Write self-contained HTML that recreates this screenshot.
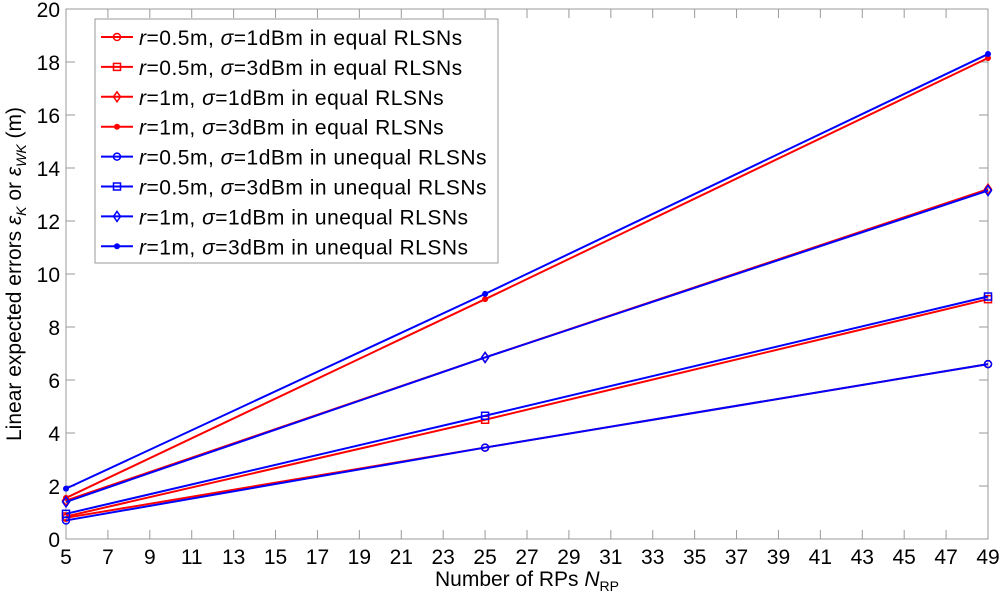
<!DOCTYPE html>
<html><head><meta charset="utf-8"><style>
body{margin:0;background:#fff}
svg{font-family:"Liberation Sans",sans-serif}
</style></head><body>
<svg id="c" width="1000" height="597" xmlns="http://www.w3.org/2000/svg"></svg>
<script>
const categories=[5,25,49];
const eqR05S1=[0.8,3.45,6.6];
const eqR05S3=[0.85,4.5,9.05];
const eqR1S1=[1.45,6.85,13.2];
const eqR1S3=[1.55,9.05,18.15];
const uqR05S1=[0.7,3.45,6.6];
const uqR05S3=[0.95,4.65,9.15];
const uqR1S1=[1.4,6.85,13.15];
const uqR1S3=[1.9,9.25,18.3];
const xTicks=[5,7,9,11,13,15,17,19,21,23,25,27,29,31,33,35,37,39,41,43,45,47,49];
const yTicks=[0,2,4,6,8,10,12,14,16,18,20];
const labels=[["0.5m","1dBm","equal"],["0.5m","3dBm","equal"],["1m","1dBm","equal"],["1m","3dBm","equal"],["0.5m","1dBm","unequal"],["0.5m","3dBm","unequal"],["1m","1dBm","unequal"],["1m","3dBm","unequal"]];
const series=[eqR05S1,eqR05S3,eqR1S1,eqR1S3,uqR05S1,uqR05S3,uqR1S1,uqR1S3];
const markers=["o","s","d","*","o","s","d","*"];
const colors=["#f00","#f00","#f00","#f00","#00f","#00f","#00f","#00f"];
const L=66,R=988,T=9,B=539;
const X=v=>L+(v-5)/(49-5)*(R-L);
const Y=v=>B-v/20*(B-T);
const svg=document.getElementById('c');const NS="http://www.w3.org/2000/svg";
function mk(t,a,p){const e=document.createElementNS(NS,t);for(const k in a)e.setAttribute(k,a[k]);(p||svg).appendChild(e);return e;}
const frame=mk('rect',{x:L,y:T,width:R-L,height:B-T,fill:'none',stroke:'#999','stroke-width':1});


xTicks.forEach(t=>{const x=X(t);
mk('line',{x1:x,y1:B,x2:x,y2:B-9,stroke:'#999'});mk('line',{x1:x,y1:T,x2:x,y2:T+9,stroke:'#999'});
const tx=mk('text',{x:x,y:B+25,'font-size':21,'text-anchor':'middle',fill:'#000'});tx.textContent=t;

});
yTicks.forEach(t=>{const y=Y(t);
mk('line',{x1:L,y1:y,x2:L+9,y2:y,stroke:'#999'});mk('line',{x1:R,y1:y,x2:R-9,y2:y,stroke:'#999'});
const tx=mk('text',{x:L-6,y:y+8,'font-size':21,'text-anchor':'end',fill:'#000'});tx.textContent=t;

});
function marker(m,x,y,c,g){
 if(m=='o')mk('circle',{cx:x,cy:y,r:3.5,fill:'none',stroke:c,'stroke-width':1.5},g);
 else if(m=='s')mk('rect',{x:x-3.5,y:y-3.5,width:7,height:7,fill:'none',stroke:c,'stroke-width':1.5},g);
 else if(m=='d')mk('polygon',{points:`${x},${y-5} ${x+3.5},${y} ${x},${y+5} ${x-3.5},${y}`,fill:'none',stroke:c,'stroke-width':1.5},g);
 else {mk('circle',{cx:x,cy:y,r:3,fill:c},g);}
}
series.forEach((s,i)=>{const g=mk('g',{});


mk('polyline',{points:s.map((v,j)=>X(categories[j])+','+Y(v)).join(' '),fill:'none',stroke:colors[i],'stroke-width':2},g);
s.forEach((v,j)=>marker(markers[i],X(categories[j]),Y(v),colors[i],g));});
const lg=mk('g',{});


mk('rect',{x:95,y:19,width:403,height:244,fill:'#fff',stroke:'#999'},lg);
labels.forEach((l,i)=>{const y=37+i*29.9;const e=mk('g',{},lg);


mk('line',{x1:101,y1:y,x2:133,y2:y,stroke:colors[i],'stroke-width':2},e);marker(markers[i],117,y,colors[i],e);
const t=mk('text',{x:139,y:y+8,'font-size':21,'letter-spacing':0.5,fill:'#000'},e);
t.innerHTML=`<tspan font-style="italic">r</tspan>=${l[0]},  <tspan font-style="italic">σ</tspan>=${l[1]} in ${l[2]} RLSNs`;});
const xl=mk('text',{x:527,y:586,'font-size':21,'text-anchor':'middle'});
xl.innerHTML='Number of RPs <tspan font-style="italic">N</tspan><tspan font-size="14" dy="5">RP</tspan>';


const yl=mk('text',{x:0,y:0,'font-size':21,'text-anchor':'middle',transform:'translate(21,274) rotate(-90)'});
yl.innerHTML='Linear expected errors <tspan font-style="italic">ε</tspan><tspan font-size="14" dy="5" font-style="italic">K</tspan><tspan dy="-5"> or </tspan><tspan font-style="italic">ε</tspan><tspan font-size="14" dy="5" font-style="italic">WK</tspan><tspan dy="-5"> (m)</tspan>';


</script>
</body></html>
